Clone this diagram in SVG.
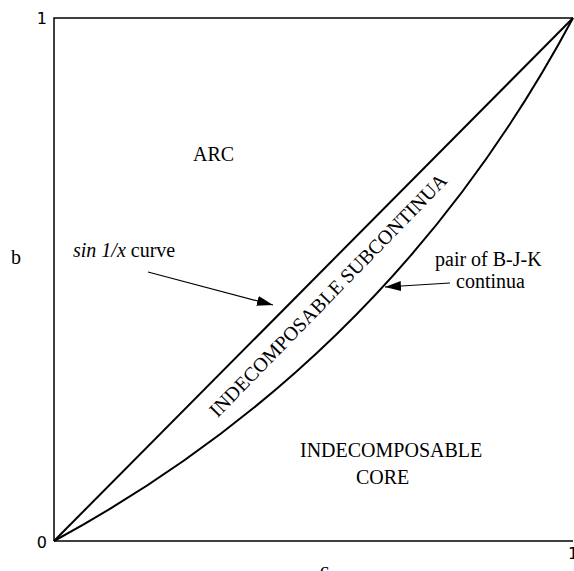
<svg xmlns="http://www.w3.org/2000/svg" width="574" height="571" viewBox="0 0 574 571">
<style>
.serif{font-family:"Liberation Serif","Times New Roman",serif;font-size:20px;fill:#000}
.num{font-family:"DejaVu Sans",sans-serif;font-size:16px;fill:#000}
.frame{fill:none;stroke:#000;stroke-width:1.5}
.curve{fill:none;stroke:#000;stroke-width:2}
.arrow{fill:none;stroke:#000;stroke-width:1.2}
</style>
<defs>
<marker id="ah" markerWidth="16" markerHeight="10" refX="16" refY="5" orient="auto" markerUnits="userSpaceOnUse">
<path d="M0,0 L16,5 L0,10 Z" fill="#000"/>
</marker>
</defs>
<rect width="574" height="571" fill="#fff"/>
<g id="axes">
<path class="frame" d="M54,541 L54,18 L573,18 M54,541 L573,541"/>
<text class="num" x="47" y="24" text-anchor="end">1</text>
<text class="num" x="47" y="548" text-anchor="end">0</text>
<text class="num" x="568" y="559">1</text>
<text class="serif" x="11" y="264">b</text>
<text class="serif" x="320" y="577">c</text>
</g>
<g id="curves">
<path id="straight" class="curve" d="M54,541 L573,18"/>
<path id="bjk" class="curve" d="M54,541 Q391,358 573,18"/>
</g>
<g id="labels">
<text class="serif" x="193" y="161">ARC</text>
<text class="serif" x="300" y="457">INDECOMPOSABLE</text>
<text class="serif" x="356" y="484">CORE</text>
<text class="serif" text-anchor="middle" transform="translate(333,300) rotate(-45.7)">INDECOMPOSABLE SUBCONTINUA</text>
<text class="serif" x="73" y="257"><tspan font-style="italic">sin 1/x</tspan> curve</text>
<text class="serif" x="435" y="266">pair of B-J-K</text>
<text class="serif" x="456" y="288">continua</text>
</g>
<g id="connectors">
<path class="arrow" d="M148,272 L273,305" marker-end="url(#ah)"/>
<path class="arrow" d="M450,283 L385,287" marker-end="url(#ah)"/>
</g>
</svg>
